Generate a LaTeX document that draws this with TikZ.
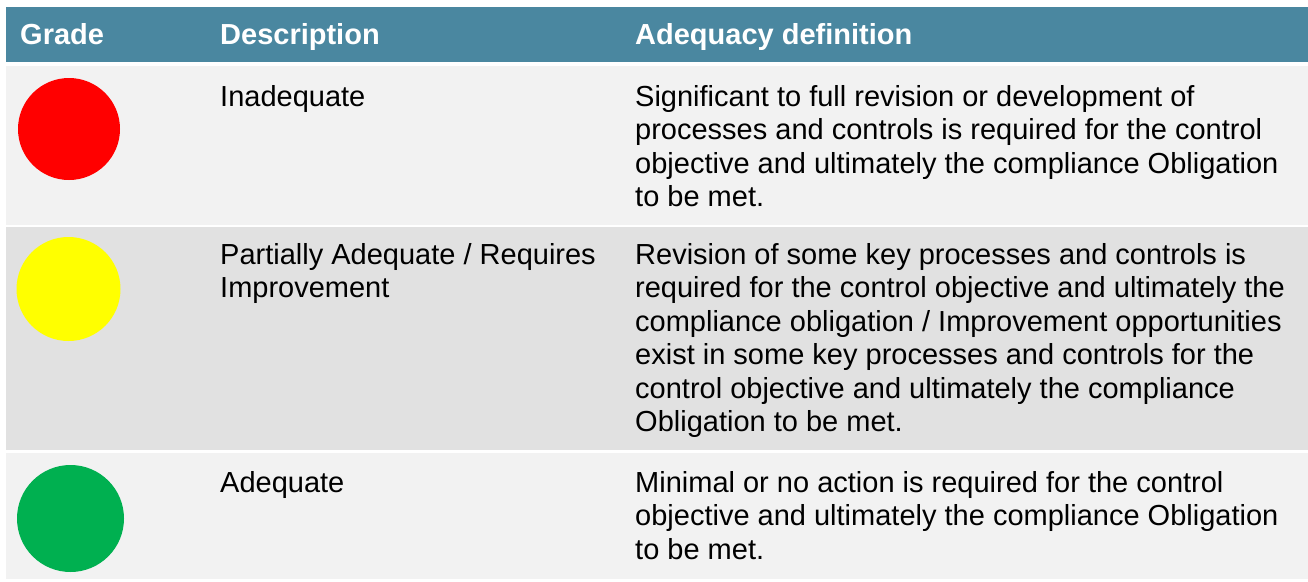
\documentclass[tikz,border=0pt]{standalone}
\usepackage{fontspec}
\setmainfont{Liberation Sans}
\usepackage{tikz}
\usetikzlibrary{positioning}

\definecolor{headBlue}{RGB}{74,135,160}
\definecolor{rowLight}{RGB}{242,242,242}
\definecolor{rowDark}{RGB}{225,225,225}
\definecolor{gradeRed}{RGB}{255,0,0}
\definecolor{gradeYellow}{RGB}{255,255,0}
\definecolor{gradeGreen}{RGB}{0,176,80}

\tikzset{
	band/.style={draw=none, shape=rectangle, inner sep=0pt, anchor=north west, minimum width=1302pt},
	dot/.style={shape=circle, draw=none, inner sep=0pt},
	headtext/.style={inner sep=0pt, anchor=base west, text=white, font=\fontsize{29}{33.5}\selectfont\bfseries},
	celltext/.style={inner sep=0pt, anchor=base west, align=left, font=\fontsize{29}{33.5}\selectfont}
}

\begin{document}
\begin{tikzpicture}[x=1pt, y=-1pt]
		\useasboundingbox (0, 0) rectangle (1308, 581);
		% Bands of the table:
		\node[band, fill=headBlue, minimum height=55pt](H) at (6, 7){};
		\node[band, fill=rowLight, minimum height=159pt](R1) at (6, 65.5){};
		\node[band, fill=rowDark, minimum height=223.5pt](R2) at (6, 226.5){};
		\node[band, fill=rowLight, minimum height=126pt](R3) at (6, 453){};
		% Header:
		\node[headtext](H1) at (20, 44){Grade};
		\node[headtext](H2) at (220, 44){Description};
		\node[headtext](H3) at (635, 44){Adequacy definition};
		% Grades:
		\node[dot, fill=gradeRed, minimum size=102pt](G1) at (69, 129){};
		\node[dot, fill=gradeYellow, minimum size=104pt](G2) at (68.5, 289){};
		\node[dot, fill=gradeGreen, minimum size=107pt](G3) at (70.5, 518.5){};
		% Descriptions (placed at the baseline of the last line):
		\node[celltext](D1) at (220, 106){Inadequate};
		\node[celltext](D2) at (220, 297.5){Partially Adequate / Requires\\Improvement};
		\node[celltext](D3) at (220, 492){Adequate};
		% Adequacy definitions:
		\node[celltext](A1) at (635, 206.5){Significant to full revision or development of\\processes and controls is required for the control\\objective and ultimately the compliance Obligation\\to be met.};
		\node[celltext](A2) at (635, 431.5){Revision of some key processes and controls is\\required for the control objective and ultimately the\\compliance obligation / Improvement opportunities\\exist in some key processes and controls for the\\control objective and ultimately the compliance\\Obligation to be met.};
		\node[celltext](A3) at (635, 559){Minimal or no action is required for the control\\objective and ultimately the compliance Obligation\\to be met.};
	\end{tikzpicture}
\end{document}
